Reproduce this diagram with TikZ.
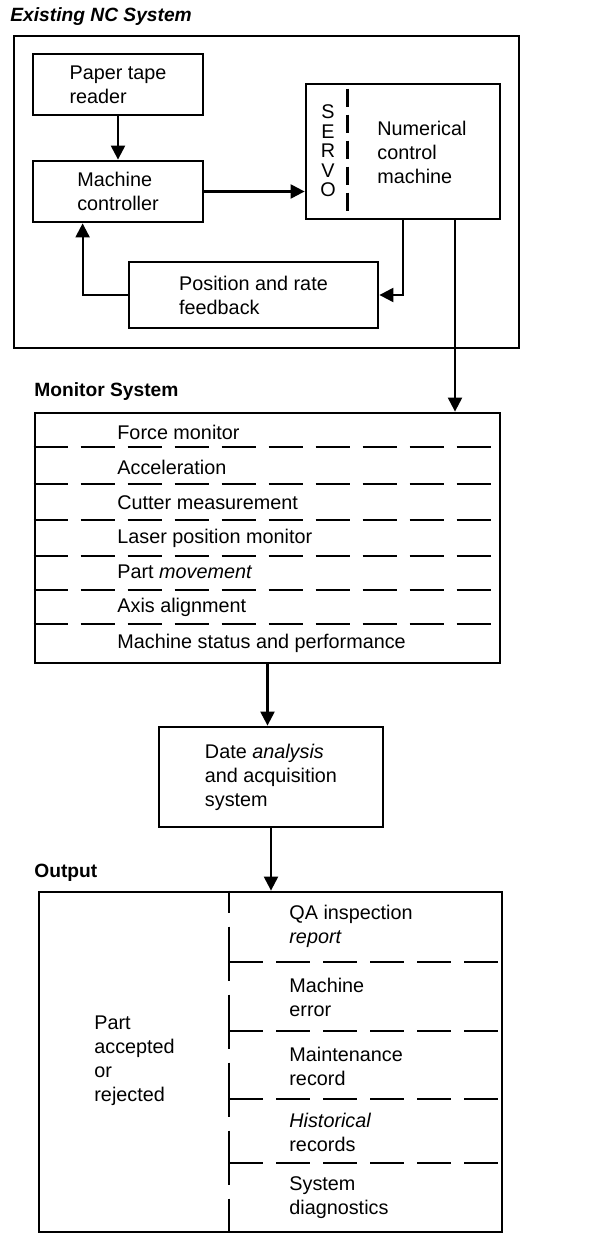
\documentclass[tikz,border=0pt]{standalone}
\usepackage{fontspec}
\setmainfont{Liberation Sans}
\usetikzlibrary{arrows.meta}

\begin{document}
\begin{tikzpicture}[x=0.5pt,y=-0.5pt,
  font=\fontsize{9.9}{12}\selectfont,
  box/.style={draw,line width=1.4pt,inner sep=0pt,align=left},
  arr/.style={line width=1.1pt,-{Triangle[length=7pt,width=7pt]}},
  divider/.style={line width=1.3pt,dash pattern=on 17pt off 6.5pt},
  txt/.style={anchor=west,inner sep=0pt,align=left},
  hdr/.style={anchor=west,inner sep=0pt,font=\fontsize{9.6}{12}\selectfont\bfseries}]
\useasboundingbox (0,0) rectangle (591,1234);

\node[hdr,font=\fontsize{9.6}{12}\selectfont\bfseries\itshape] (nctitle) at (10,17) {Existing NC System};
\node[draw,line width=1pt,minimum width=252.5pt,minimum height=156pt] (ncsys) at (266.5,192) {};
    \node[box,minimum width=85pt,minimum height=30.5pt] (tape) at (118,84.5) {Paper tape\\reader};
    \node[box,minimum width=85pt,minimum height=30.5pt] (ctrl) at (118,191.5) {Machine\\controller};
    \node[box,minimum width=97pt,minimum height=67.5pt] (nc) at (403,151.5) {};
    \node[inner sep=0pt,align=center,font=\fontsize{9.9}{9.75}\selectfont] (servo) at (328,151) {S\\E\\R\\V\\O};
    \node[txt] (nctext) at (377,152) {Numerical\\control\\machine};
    \draw[line width=1.2pt,dash pattern=on 9pt off 4pt] ([shift={(21.5pt,-3pt)}]nc.north west) -- ([shift={(21.5pt,4pt)}]nc.south west);
    \node[box,minimum width=124.5pt,minimum height=33pt] (fb) at (253.5,295) {Position and rate\\feedback};
     \draw[arr] (tape) -- (ctrl);
     \draw[arr] (ctrl) -- (ctrl -| nc.west);
     \draw[arr] (nc.south) |- (fb);
     \draw[arr] (fb) -| ([xshift=25.5pt]ctrl.south west);

\node[hdr] (montitle) at (34,392) {Monitor System};
    \node[box,minimum width=232.5pt,minimum height=125pt] (mon) at (267.5,538) {};
    \foreach \y/\t [count=\i] in {432/Force monitor, 467/Acceleration, 503/Cutter measurement,
      538/Laser position monitor, 572/Part \emph{movement}, 607/Axis alignment,
      643/Machine status and performance}
      \node[txt] (mon\i) at (117,\y) {\t};
    \foreach \y in {447,484,520,556,590,624}
      \draw[divider] (mon.west |- 0,\y) -- (mon.east |- 0,\y);
     \draw[arr] ([xshift=26pt]nc.south) -- ([xshift=26pt]nc.south |- mon.north);

    \node[box,minimum width=112pt,minimum height=50pt] (dat) at (271,777) {Date \emph{analysis}\\and acquisition\\system};
     \draw[arr] (mon.south) -- (mon.south |- dat.north);

\node[hdr] (outtitle) at (34,873) {Output};
    \node[box,minimum width=231.5pt,minimum height=170pt] (out) at (270.5,1062) {};
    \node[txt] (part) at (94,1061) {Part\\accepted\\or\\rejected};
    \draw[line width=1.3pt,dash pattern=on 27pt off 7pt,dash phase=16pt] (out.north -| 229,0) -- (out.south -| 229,0);
    \foreach \y in {962,1031,1099,1163}
      \draw[divider] (229,\y) -- (out.east |- 0,\y);
    \foreach \y/\t [count=\i] in {926.5/QA inspection\\\emph{report}, 997/Machine\\error,
      1066/Maintenance\\record, 1132.5/\emph{Historical}\\records, 1198/System\\diagnostics}
      \node[txt] (res\i) at (289,\y) {\t};
     \draw[arr] (dat) -- (dat |- out.north);

\end{tikzpicture}
\end{document}
